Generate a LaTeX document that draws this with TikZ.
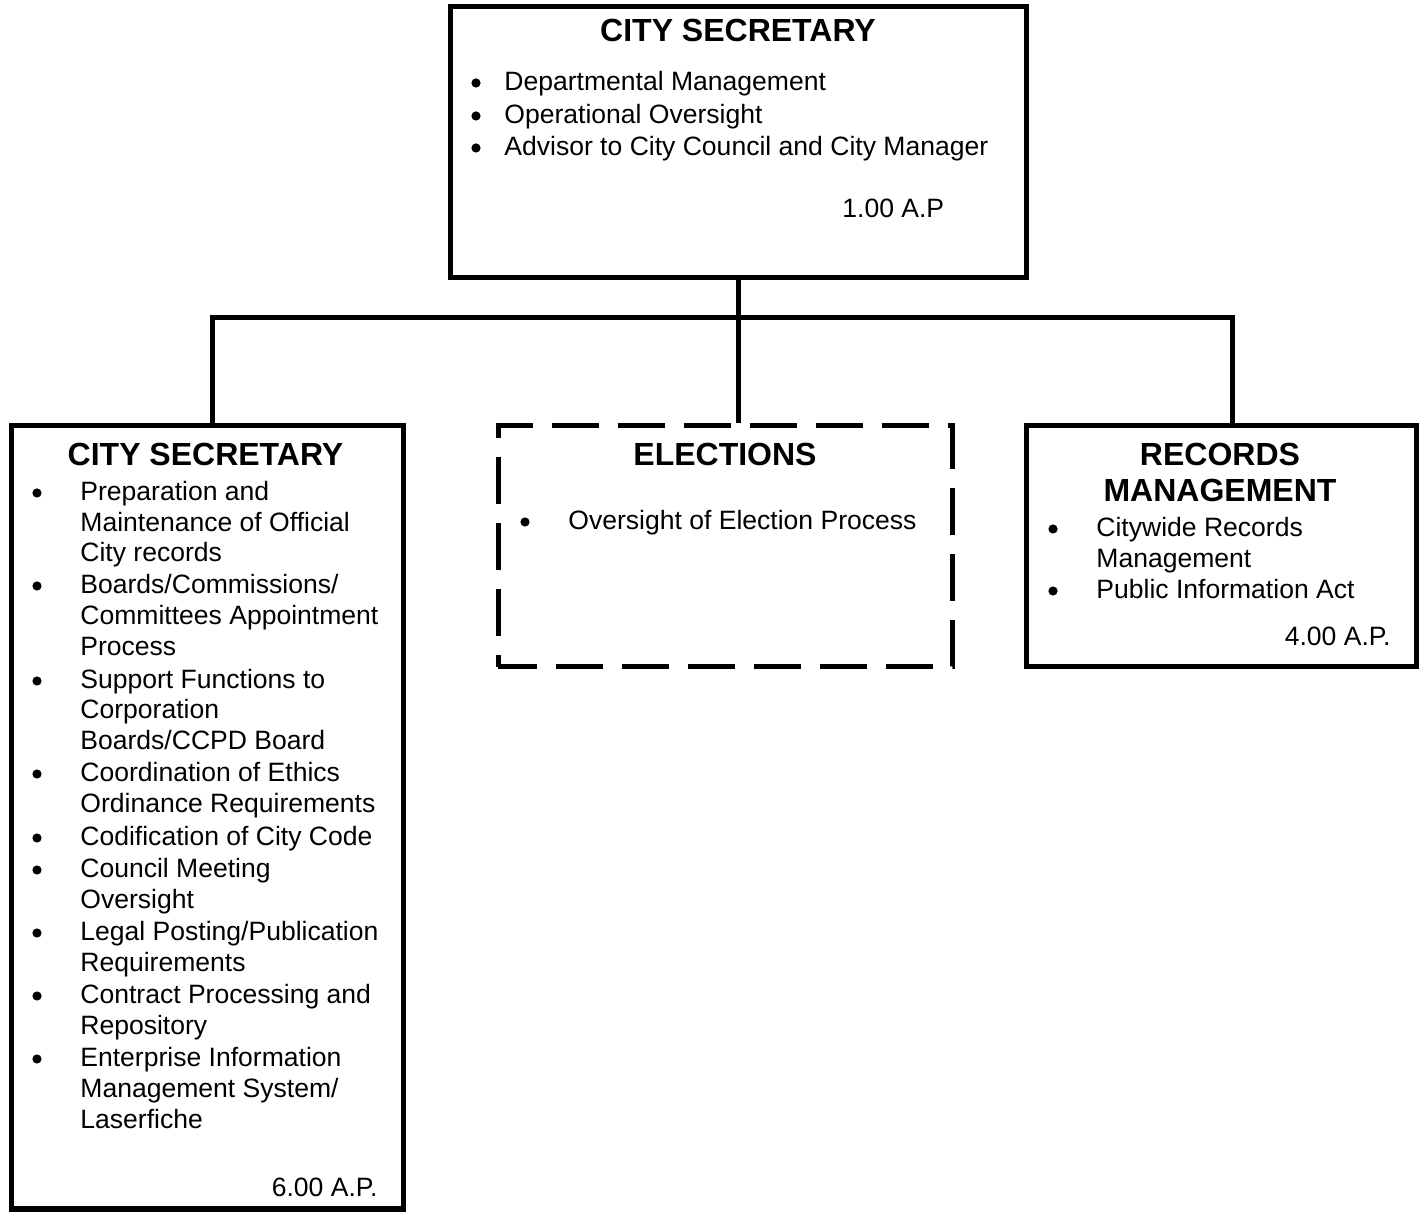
\documentclass[tikz,border=0pt]{standalone}
\usepackage{fontspec}
\setmainfont{Liberation Sans}
\begin{document}
\begin{tikzpicture}[x=0.5pt,y=-0.5pt,
  box/.style={draw=black,line width=2.5pt,fill=white,inner sep=0pt},
  dashbox/.style={box,dash pattern=on 23.5pt off 9.5pt,dash phase=4pt},
  conn/.style={draw=black,line width=2.5pt,line join=miter},
  head/.style={inner sep=0pt,anchor=base,font=\fontsize{16}{19}\selectfont\bfseries},
  txt/.style={inner sep=0pt,anchor=base west,font=\fontsize{13.27}{16}\selectfont},
  fte/.style={txt,anchor=base east},
  bul/.style={circle,fill=black,inner sep=0pt,minimum size=4.6pt,yshift=4pt}]
\useasboundingbox (0,0) rectangle (1421,1213);

% boxes
\node[box,minimum width=288.25pt,minimum height=135.5pt] (top) at (738.25,142) {};
\node[box,minimum width=196pt,minimum height=391.5pt] (left) at (207.5,817.5) {};
\node[dashbox,minimum width=227pt,minimum height=120.5pt] (elec) at (725,546.5) {};
\node[box,minimum width=195pt,minimum height=120.5pt] (rec) at (1221,546.5) {};

% connectors
\coordinate (busL) at (212,318);
\coordinate (busR) at (1232,318);
\draw[conn] (top.south) -- (top.south |- busL);
\draw[conn] (busL |- left.north) -- (busL) -- (busR) -- (busR |- rec.north);
\draw[conn] (top.south |- busL) -- (top.south |- elec.north);

% top box (bullet nodes sit on the text baseline, raised by yshift)
\node[head] (tt) at (738,42) {CITY SECRETARY};
\node[bul] (tb1) at (476,91) {};
\node[txt] (t1) at (504,91) {Departmental Management};
\node[bul] (tb2) at (476,124) {};
\node[txt] (t2) at (504,124) {Operational Oversight};
\node[bul] (tb3) at (476,156) {};
\node[txt] (t3) at (504,156) {Advisor to City Council and City Manager};
\node[txt] (tf) at (842,218) {1.00 A.P};

% left box
\node[head] (lt) at (205.5,466) {CITY SECRETARY};
\node[bul] (lb1) at (37,501) {};
\node[txt] (l1) at (80,501) {Preparation and};
\node[txt] (l2) at (80,532) {Maintenance of Official};
\node[txt] (l3) at (80,562) {City records};
\node[bul] (lb2) at (37,594) {};
\node[txt] (l4) at (80,594) {Boards/Commissions/};
\node[txt] (l5) at (80,625) {Committees Appointment};
\node[txt] (l6) at (80,656) {Process};
\node[bul] (lb3) at (37,689) {};
\node[txt] (l7) at (80,689) {Support Functions to};
\node[txt] (l8) at (80,719) {Corporation};
\node[txt] (l9) at (80,750) {Boards/CCPD Board};
\node[bul] (lb4) at (37,782) {};
\node[txt] (l10) at (80,782) {Coordination of Ethics};
\node[txt] (l11) at (80,813) {Ordinance Requirements};
\node[bul] (lb5) at (37,846) {};
\node[txt] (l12) at (80,846) {Codification of City Code};
\node[bul] (lb6) at (37,878) {};
\node[txt] (l13) at (80,878) {Council Meeting};
\node[txt] (l14) at (80,909) {Oversight};
\node[bul] (lb7) at (37,941) {};
\node[txt] (l15) at (80,941) {Legal Posting/Publication};
\node[txt] (l16) at (80,972) {Requirements};
\node[bul] (lb8) at (37,1004) {};
\node[txt] (l17) at (80,1004) {Contract Processing and};
\node[txt] (l18) at (80,1035) {Repository};
\node[bul] (lb9) at (37,1067) {};
\node[txt] (l19) at (80,1067) {Enterprise Information};
\node[txt] (l20) at (80,1098) {Management System/};
\node[txt] (l21) at (80,1129) {Laserfiche};
\node[fte] (lf) at (378,1196) {6.00 A.P.};

% elections box
\node[head] (et) at (725,466) {ELECTIONS};
\node[bul] (eb1) at (525,530) {};
\node[txt] (e1) at (568,530) {Oversight of Election Process};

% records box
\node[head] (rt1) at (1220,466) {RECORDS};
\node[head] (rt2) at (1220,502) {MANAGEMENT};
\node[bul] (rb1) at (1053,537) {};
\node[txt] (r1) at (1096,537) {Citywide Records};
\node[txt] (r2) at (1096,568) {Management};
\node[bul] (rb2) at (1053,599) {};
\node[txt] (r3) at (1096,599) {Public Information Act};
\node[fte] (rf) at (1391,646) {4.00 A.P.};
\end{tikzpicture}
\end{document}
